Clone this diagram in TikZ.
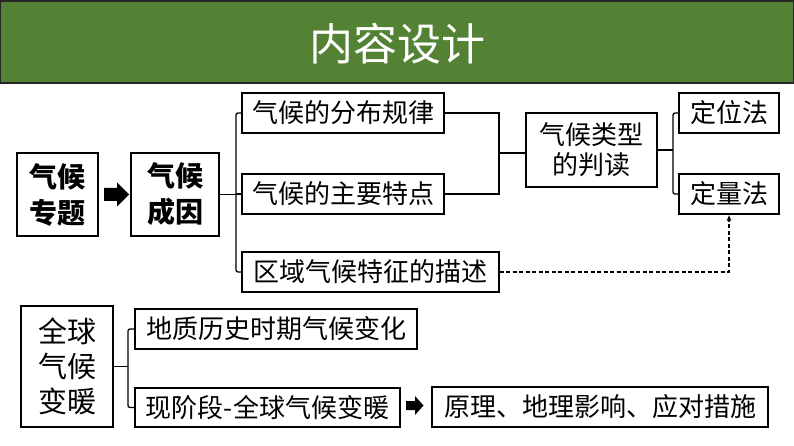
\documentclass[tikz,border=0pt]{standalone}
\usepackage{fontspec}
\setmainfont{Noto Sans CJK SC}
\usetikzlibrary{arrows.meta}
\definecolor{bargreen}{HTML}{548235}
\tikzset{
  box/.style={draw=black, line width=1.3pt, inner sep=0pt, fill=white, align=center},
  song/.style={font=\fontsize{26pt}{30pt}\selectfont},
  hei/.style={font=\bfseries\fontsize{28pt}{36pt}\selectfont},
  heib/.style={font=\fontsize{29pt}{35pt}\selectfont},
  conn/.style={line width=1.3pt, draw=black},
  dconn/.style={line width=1.3pt, draw=black, dash pattern=on 4pt off 2.5pt, -{Latex[length=6pt,width=5pt]}},
  blockarrow/.style={fill=black, draw=none}
}
\begin{document}
\begin{tikzpicture}[x=1pt,y=-1pt]
\useasboundingbox (0,0) rectangle (794,446);
% title bar
\fill[bargreen] (0.5,1) rectangle (793.5,83);
\draw[black!85, line width=1.4pt] (0.7,1.2) rectangle (793.3,83);
\node[text=white, font=\fontsize{44pt}{48pt}\selectfont, inner sep=0pt] (title) at (397,44) {内容设计};

% top-left boxes
\node[box, hei, minimum width=81pt, minimum height=83pt] (zt) at (57.5,194.5) {气候\\专题};
\node[box, hei, minimum width=88pt, minimum height=83pt] (cy) at (175,194.5) {气候\\成因};

\node[box, song, minimum width=202pt, minimum height=40pt] (fb) at (343,113) {气候的分布规律};
\node[box, song, minimum width=202pt, minimum height=40pt] (tz) at (343,194) {气候的主要特点};
\node[box, song, minimum width=257pt, minimum height=40pt] (qy) at (370.5,272) {区域气候特征的描述};

\node[box, font=\fontsize{26pt}{30pt}\selectfont, minimum width=131pt, minimum height=74pt] (lx) at (591.5,150) {气候类型\\的判读};

\node[box, song, minimum width=100pt, minimum height=40pt] (dw) at (729,113) {定位法};
\node[box, song, minimum width=100pt, minimum height=40pt] (dl) at (729,194) {定量法};

% bottom boxes
\node[box, heib, minimum width=92pt, minimum height=121pt] (qq) at (67,366.5) {全球\\气候\\变暖};
\node[box, song, minimum width=282pt, minimum height=40pt] (dz) at (276,329) {地质历史时期气候变化};
\node[box, song, minimum width=265pt, minimum height=39pt] (xj) at (267.5,407.5) {现阶段-全球气候变暖};
\node[box, song, minimum width=336pt, minimum height=40pt] (yl) at (600,407) {原理、地理影响、应对措施};

% spine coordinates
\coordinate (sp1) at (236,0);
\coordinate (sp2) at (499,0);
\coordinate (sp3) at (673,0);
\coordinate (sp4) at (128,0);
\coordinate (dx) at (729,0);

% block arrow zt -> cy
\fill[blockarrow] (104,188) -- (117,188) -- (117,182.5) -- (129,194.5) -- (117,206.5) -- (117,201) -- (104,201) -- cycle;
% block arrow xj -> yl
\fill[blockarrow] (406,401) -- (415,401) -- (415,396) -- (423.5,405.5) -- (415,415) -- (415,410) -- (406,410) -- cycle;

% connectors: cy -> three boxes
\draw[conn] (cy.east) -- (cy.east -| sp1);
\draw[conn, rounded corners=2pt] (fb.west) -- (fb.west -| sp1) -- (qy.west -| sp1) -- (qy.west);
\draw[conn] (tz.west -| sp1) -- (tz.west);

% fb, tz -> lx
\draw[conn] (fb.east) -- (fb.east -| sp2) -- (tz.east -| sp2) -- (tz.east);
\coordinate (j1) at (499,153);
\draw[conn] (j1) -- (j1 -| lx.west);

% lx -> dw, dl
\draw[conn] (lx.east) -- (lx.east -| sp3);
\draw[conn, rounded corners=2pt] (dw.west) -- (dw.west -| sp3) -- (dl.west -| sp3) -- (dl.west);

% dashed qy -> dl
\draw[dconn] (qy.east) -- (qy.east -| dx) -- (dl.south);

% qq -> dz, xj
\draw[conn] (qq.east) -- (qq.east -| sp4);
\draw[conn, rounded corners=2pt] (dz.west) -- (dz.west -| sp4) -- (xj.west -| sp4) -- (xj.west);
\end{tikzpicture}
\end{document}
